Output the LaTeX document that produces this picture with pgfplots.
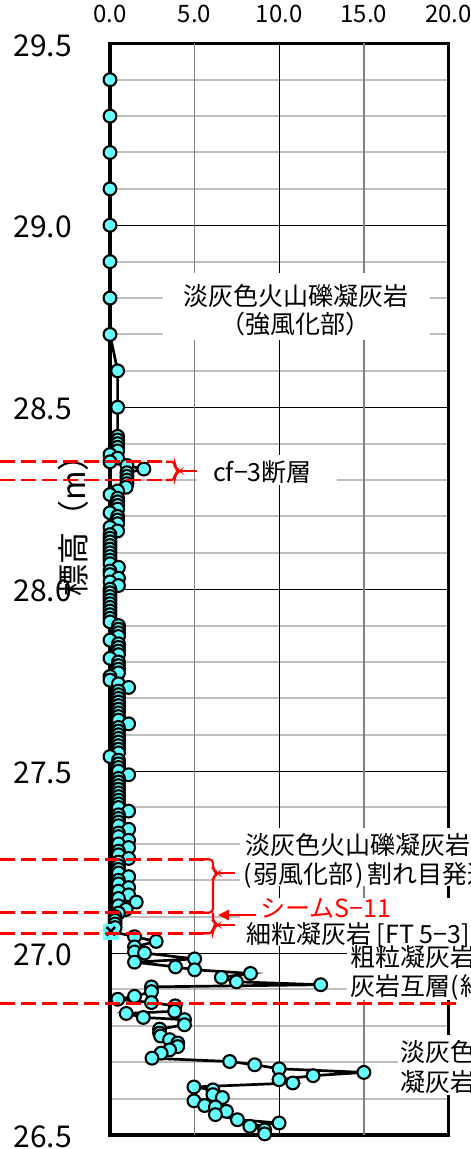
\documentclass[border=0pt]{standalone}
\usepackage{fontspec}
\setmainfont{Noto Sans CJK JP}
\usepackage{pgfplots}
\usepackage{pgfplotstable}
\pgfplotsset{compat=1.18}
\usetikzlibrary{arrows.meta}

\definecolor{markcyan}{RGB}{102,255,255}
\definecolor{minorgrid}{RGB}{191,191,191}
\definecolor{vgrid}{RGB}{128,128,128}
\newcommand{\ann}{\fontsize{25bp}{30bp}\selectfont}

% elevation profile: x value, elevation (m)
\pgfplotstableread{
x y
0 29.4
0 29.3
0 29.2
0 29.1
0 29.0
0 28.9
0 28.8
0 28.7
0.45 28.6
0.45 28.5
0.45 28.42
0.45 28.41
0.45 28.40
0.45 28.39
0.45 28.38
0 28.37
0.45 28.36
0 28.35
1.0 28.34
2.0 28.33
1.0 28.32
1.0 28.31
1.0 28.30
1.0 28.29
0.95 28.28
0.45 28.27
0 28.26
0.45 28.25
0.45 28.24
0.45 28.23
0.45 28.22
0 28.21
0.45 28.20
0.45 28.19
0.45 28.18
0 28.17
0.45 28.16
0 28.15
0 28.14
0 28.13
0 28.12
0 28.11
0 28.10
0 28.09
0 28.08
0 28.07
0.5 28.06
0 28.05
0 28.04
0.5 28.03
0 28.02
0.5 28.01
0 28.00
0 27.99
0 27.98
0 27.97
0 27.96
0 27.95
0 27.94
0 27.93
0 27.92
0 27.91
0.5 27.90
0.5 27.89
0.5 27.88
0.5 27.87
0 27.86
0.5 27.85
0.5 27.84
0.5 27.83
0.5 27.82
0 27.81
0.5 27.80
0.5 27.79
0.5 27.78
0.5 27.77
0 27.76
0 27.75
0.5 27.74
1.1 27.73
0.5 27.72
0.5 27.71
0.5 27.70
0.5 27.69
0.5 27.68
0.5 27.67
0.5 27.66
0.5 27.65
0.5 27.64
1.1 27.63
0.5 27.62
0.5 27.61
0.5 27.60
0.5 27.59
0.5 27.58
0.5 27.57
0.5 27.56
0.5 27.55
0 27.54
0.5 27.53
0.5 27.52
0.5 27.51
0.5 27.50
1.1 27.49
0.5 27.48
0.5 27.47
0.5 27.46
0.5 27.45
0.5 27.44
0.5 27.43
0.5 27.42
0.5 27.41
0.5 27.40
1.1 27.39
0.5 27.38
0.5 27.37
0.5 27.36
0.5 27.35
1.1 27.34
0.5 27.33
0.5 27.32
1.1 27.31
0.5 27.30
1.1 27.29
0.5 27.28
0.5 27.27
1.1 27.26
0.5 27.25
0.5 27.24
0.5 27.23
0.5 27.22
1.1 27.21
0.5 27.20
0.5 27.19
1.1 27.18
0.5 27.17
1.1 27.16
0.5 27.15
1.55 27.14
0.5 27.13
0.95 27.12
0.5 27.11
0.3 27.10
0.3 27.09
0.3 27.08
0.3 27.07
0.05 27.06
1.45 27.045
2.73 27.032
1.45 27.017
1.45 27.003
2.04 27.000
5.0 26.984
1.45 26.975
3.87 26.962
5.0 26.954
8.3 26.944
6.58 26.933
7.47 26.921
12.45 26.913
2.45 26.907
2.45 26.894
1.45 26.881
0.46 26.873
2.45 26.864
3.85 26.855
3.82 26.840
0.96 26.834
1.97 26.823
4.4 26.817
4.4 26.803
2.93 26.791
2.93 26.780
2.99 26.772
3.52 26.762
4.0 26.753
4.0 26.743
3.52 26.734
3.02 26.725
2.48 26.711
7.07 26.702
8.55 26.693
9.99 26.682
15.0 26.672
12.0 26.663
9.99 26.652
10.8 26.643
4.96 26.632
6.08 26.624
6.08 26.611
6.64 26.603
4.96 26.594
5.59 26.581
6.23 26.577
6.88 26.565
6.23 26.556
7.53 26.542
9.99 26.533
8.26 26.524
9.14 26.514
9.14 26.503
}\profile

\begin{document}
\begin{tikzpicture}
\begin{axis}[
    at={(110bp,14bp)}, anchor=south west,
    scale only axis, width=338.5bp, height=1091.7bp,
    xmin=0, xmax=20, ymin=26.5, ymax=29.5,
    xtick={0,5,10,15,20},
    ytick={26.5,27.0,27.5,28.0,28.5,29.0,29.5},
    minor y tick num=4,
    ymajorgrids, yminorgrids,
    major grid style={black, line width=1bp},
    minor grid style={minorgrid, line width=2bp},
    major tick length=0pt, minor tick length=0pt,
    axis line style={black, line width=3.2bp},
    xticklabel pos=upper,
    xticklabel style={font=\fontsize{24bp}{28bp}\selectfont, inner sep=0pt, yshift=20bp},
    yticklabel style={font=\fontsize{30bp}{34bp}\selectfont, inner sep=0pt, xshift=-38bp, yshift=-2bp},
    /pgf/number format/fixed, /pgf/number format/fixed zerofill,
    /pgf/number format/precision=1, /pgf/number format/assume math mode=true,
    clip=false,
]
\draw[vgrid, line width=1.3bp] (axis cs:5,26.5) -- (axis cs:5,29.5);
\draw[vgrid, line width=1.3bp] (axis cs:15,26.5) -- (axis cs:15,29.5);
\draw[black, line width=1bp] (axis cs:10,26.5) -- (axis cs:10,29.5);
\addplot[black, line width=2.7bp, mark=*, mark size=6.4bp,
    mark options={fill=markcyan, draw=black, line width=2.1bp}] table[x=x, y=y] {\profile};
\addplot[only marks, mark=square*, mark size=7.5bp,
    mark options={fill=markcyan, draw=markcyan}] coordinates {(0.05,27.06)};
\addplot[only marks, black, line width=2.5bp, mark=x, mark size=6bp] coordinates {(0.05,27.06)};
\end{axis}

\begin{scope}[x=1bp, y=-1bp, shift={(0,1149bp)}]
% white label boxes
\fill[white] (163,273) rectangle (430,340);
\fill[white] (197,455) rectangle (337,485);
\fill[white] (240,828) rectangle (480,886);
\fill[white] (240,898) rectangle (480,946);
\fill[white] (347,942) rectangle (480,1000);
\fill[white] (398,1035) rectangle (480,1095);

% labels
\node[font=\ann] at (296,296) {淡灰色火山礫凝灰岩};
\node[font=\ann] at (296,324) {（強風化部）};
\node[font=\ann, anchor=west, inner sep=0pt] at (213,472) {cf−3断層};
\node[font=\ann, anchor=west, inner sep=0pt] at (245,845) {淡灰色火山礫凝灰岩};
\node[font=\ann, anchor=west, inner sep=0pt] at (243,875) {(\hspace{2bp}弱風化部\hspace{2bp})\hspace{3bp}割れ目発達};
\node[font=\ann, anchor=west, inner sep=0pt, red] at (260,908) {シームS−11};
\node[font=\ann, anchor=west, inner sep=0pt] at (246,935) {細粒凝灰岩 [FT 5−3]};
\node[font=\ann, anchor=west, inner sep=0pt] at (350,957) {粗粒凝灰岩と細粒凝};
\node[font=\ann, anchor=west, inner sep=0pt] at (350,987) {灰岩互層(\hspace{2bp}細粒優勢\hspace{2bp})};
\node[font=\ann, anchor=west, inner sep=0pt] at (400,1052) {淡灰色火山礫};
\node[font=\ann, anchor=west, inner sep=0pt] at (400,1082) {凝灰岩};
\node[rotate=90, font=\fontsize{32bp}{36bp}\selectfont] at (73,518) {標高（m）};

% red dashed boundaries
\begin{scope}[red, line width=2.5bp, dash pattern=on 15bp off 6bp]
\draw (0,461.7) -- (167,461.7);
\draw (0,480) -- (167,480);
\draw (0,859.3) -- (205,859.3);
\draw (0,912.7) -- (205,912.7);
\draw (0,933.3) -- (205,933.3);
\draw (0,1003.3) -- (457,1003.3);
\end{scope}

% brackets and arrow
\begin{scope}[red, line width=2.2bp, rounded corners=4bp]
\draw (166,461.7) -- (175,461.7) -- (175,468) -- (180,471) -- (175,474) -- (175,480) -- (166,480);
\draw (180,471) -- (197,471);
\draw (204,859.3) -- (213,859.3) -- (213,870) -- (218,873.3) -- (213,877) -- (213,912.7) -- (204,912.7);
\draw (213,912.7) -- (213,922) -- (218,925) -- (213,928) -- (213,933.3) -- (204,933.3);
\draw (218,873.3) -- (235,873.3);
\draw (218,925) -- (235,925);
\end{scope}
\draw[red, line width=2.5bp, -{Triangle[length=11bp, width=10bp]}] (256,915) -- (218,915);
\end{scope}

\pgfresetboundingbox
\path[use as bounding box] (0,0) rectangle (471bp,1149bp);
\end{tikzpicture}
\end{document}
